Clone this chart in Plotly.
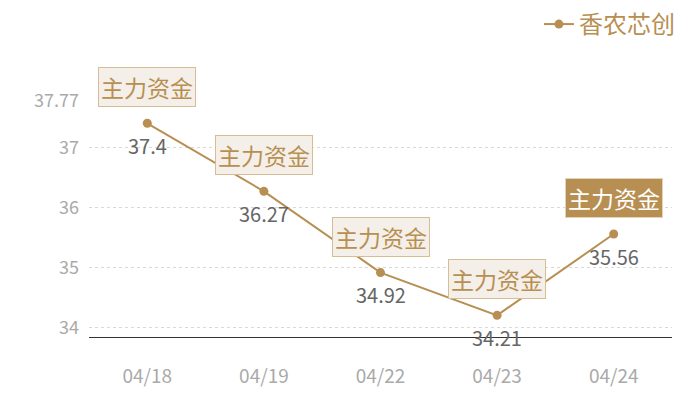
import plotly.graph_objects as go

dates = ["04/18", "04/19", "04/22", "04/23", "04/24"]
values = [37.4, 36.27, 34.92, 34.21, 35.56]
series_name = "香农芯创"
tag_text = "主力资金"
y_ticks = [34, 35, 36, 37, 37.77]
y_range = [33.85, 37.77]

gold = "#b88f52"
font = "Noto Sans CJK SC"

fig = go.Figure()
fig.add_trace(go.Scatter(
    x=dates, y=values, name=series_name,
    mode="lines+markers",
    line=dict(color=gold, width=2),
    marker=dict(color=gold, size=9),
    cliponaxis=False,
))

for i, (d, v) in enumerate(zip(dates, values)):
    last = i == len(dates) - 1
    fig.add_annotation(
        x=d, y=v, text=tag_text, showarrow=False, yshift=36,
        font=dict(family=font, size=23, color="#ffffff" if last else gold),
        bgcolor=gold if last else "#f4efe8",
        bordercolor="#e4d3b8" if last else "#d6bd93",
        borderwidth=1, borderpad=2,
    )
    fig.add_annotation(
        x=d, y=v, text=str(v), showarrow=False, yshift=-22,
        font=dict(family=font, size=20, color="#666666"),
    )

fig.update_layout(
    width=692, height=392,
    margin=dict(l=81, r=28, t=93, b=63),
    paper_bgcolor="white", plot_bgcolor="white",
    font=dict(family=font),
    showlegend=True,
    legend=dict(x=0.971, xref="container", xanchor="right", y=0.958, yref="container", yanchor="middle",
                orientation="h", font=dict(family=font, size=24, color=gold),
                bgcolor="rgba(0,0,0,0)", itemwidth=30),
    xaxis=dict(type="category", showgrid=False, showline=True, linecolor="#333333",
               linewidth=1, ticks="", ticklabelstandoff=22,
               tickfont=dict(family=font, size=19, color="#aaaaaa"),
               range=[-0.5, 4.5]),
    yaxis=dict(range=y_range, tickvals=y_ticks, ticktext=[str(t) for t in y_ticks],
               showgrid=True, gridcolor="#d8d8d8", griddash="dot", gridwidth=1,
               zeroline=False, showline=False, ticks="", ticklabelstandoff=9,
               tickfont=dict(family=font, size=18, color="#aaaaaa")),
)

fig.write_html("out.html")
